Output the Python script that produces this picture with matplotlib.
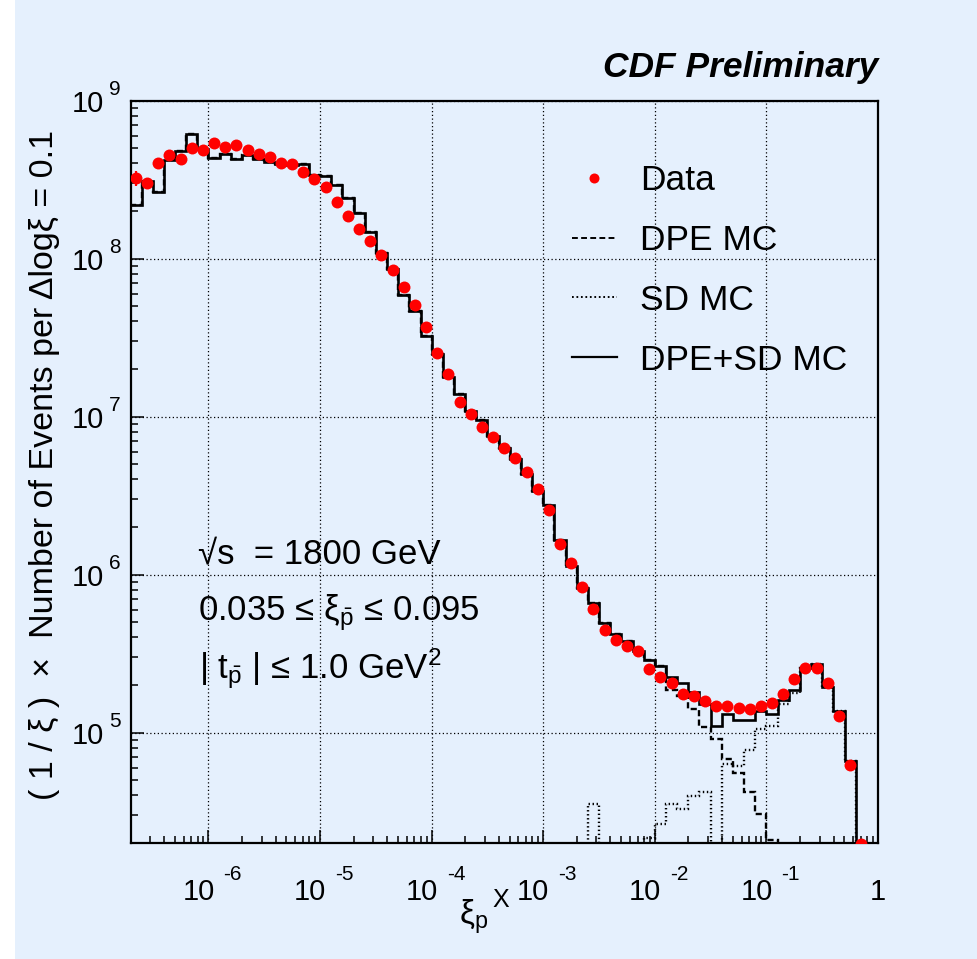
import numpy as np
import matplotlib
matplotlib.use('Agg')
import matplotlib.pyplot as plt
from matplotlib.patches import Rectangle
from matplotlib.lines import Line2D
from matplotlib.ticker import LogLocator, NullFormatter
from matplotlib.transforms import ScaledTranslation, blended_transform_factory

plt.rcParams['font.family'] = ['Liberation Sans', 'DejaVu Sans']
plt.rcParams['mathtext.fontset'] = 'custom'
plt.rcParams['mathtext.rm'] = 'Liberation Sans'
plt.rcParams['mathtext.it'] = 'Liberation Sans:italic'
plt.rcParams['mathtext.bf'] = 'Liberation Sans:bold'

# ---------------- data ----------------
log_xi_low = -6.7      # lower edge of first bin (log10 xi)
bin_width = 0.1        # Delta log xi
n_bins = 67

data_vals = [3.21e8, 2.99e8, 4.00e8, 4.54e8, 4.28e8, 4.98e8, 4.88e8, 5.37e8, 5.07e8, 5.21e8,
             4.85e8, 4.60e8, 4.39e8, 4.02e8, 3.98e8, 3.51e8, 3.20e8, 2.83e8, 2.29e8, 1.86e8,
             1.53e8, 1.29e8, 1.06e8, 8.51e7, 6.64e7, 5.06e7, 3.66e7, 2.54e7, 1.85e7, 1.23e7,
             1.03e7, 8.61e6, 7.38e6, 6.31e6, 5.43e6, 4.47e6, 3.48e6, 2.57e6, 1.56e6, 1.18e6,
             8.32e5, 6.07e5, 4.47e5, 3.86e5, 3.52e5, 3.29e5, 2.51e5, 2.26e5, 2.07e5, 1.76e5,
             1.70e5, 1.58e5, 1.48e5, 1.48e5, 1.43e5, 1.40e5, 1.47e5, 1.54e5, 1.76e5, 2.17e5,
             2.56e5, 2.56e5, 2.06e5, 1.27e5, 6.25e4, 1.97e4]
data_err_first = [3.5e7, 2.2e7, 1.4e7]   # visible stat. errors of the first bins

mc_total = [2.17e8, 3.09e8, 2.63e8, 4.21e8, 4.78e8, 6.15e8, 4.95e8, 4.35e8, 4.58e8, 4.24e8,
            4.52e8, 4.24e8, 4.11e8, 3.94e8, 3.90e8, 3.98e8, 3.38e8, 3.33e8, 2.92e8, 2.43e8,
            1.94e8, 1.47e8, 1.08e8, 8.55e7, 5.89e7, 4.68e7, 3.21e7, 2.48e7, 1.79e7, 1.39e7,
            1.09e7, 9.53e6, 7.48e6, 6.31e6, 5.38e6, 4.33e6, 3.39e6, 2.77e6, 1.66e6, 1.14e6,
            8.22e5, 6.61e5, 4.94e5, 4.19e5, 3.77e5, 3.30e5, 2.88e5, 2.65e5, 2.24e5, 2.07e5,
            1.80e5, 1.52e5, 1.10e5, 1.32e5, 1.20e5, 1.20e5, 1.37e5, 1.32e5, 1.61e5, 1.85e5,
            2.56e5, 2.72e5, 1.95e5, 1.36e5, 6.64e4, 0.0, 0.0]

# DPE MC: identical to the total for the first 48 bins, then falls off
dpe_tail = [1.86e5, 1.71e5, 1.40e5, 1.09e5, 9.14e4, 6.82e4, 5.58e4, 4.22e4, 3.05e4, 2.09e4,
            0.0, 0.0, 0.0, 0.0, 0.0, 0.0, 0.0, 0.0, 0.0]

sd_mc = [0.0] * 41 + [3.52e4, 0.0, 0.0, 0.0, 0.0, 2.15e4, 2.65e4, 3.52e4, 3.27e4, 3.98e4,
                      4.18e4, 0.0, 6.31e4, 6.15e4, 7.76e4, 1.06e5, 1.10e5, 1.52e5, 1.79e5,
                      2.56e5, 2.72e5, 1.95e5, 1.36e5, 6.64e4, 0.0, 0.0]

x_major = [1e-6, 1e-5, 1e-4, 1e-3, 1e-2, 1e-1, 1.0]
x_base_labels = ['10', '10', '10', '10', '10', '10', '1']
x_exponents = ['-6', '-5', '-4', '-3', '-2', '-1', '']
y_major = [1e5, 1e6, 1e7, 1e8, 1e9]
y_exponents = ['5', '6', '7', '8', '9']

legend_labels = ['Data', 'DPE MC', 'SD MC', 'DPE+SD MC']

# ---------------- figure ----------------
W, H = 978, 959
DPI = 100
BG = '#e5f0fd'

fig = plt.figure(figsize=(W / DPI, H / DPI), dpi=DPI, facecolor='white')
fig.patches.append(Rectangle((15 / W, 0), 1 - 15 / W, 1, transform=fig.transFigure,
                             facecolor=BG, edgecolor='none', zorder=-10))


def fx(px):
    return px / W


def fy(py):
    return 1 - py / H


ax = fig.add_axes([fx(130.5), fy(843), (878 - 130.5) / W, (843 - 100.5) / H])
ax.set_facecolor(BG)

edges = 10 ** (log_xi_low + bin_width * np.arange(n_bins + 1))
dpe_mc = mc_total[:48] + dpe_tail

floor = 1e-3


def floored(v):
    v = np.asarray(v, dtype=float)
    return np.where(v > 0, v, floor)


dash_style = (0, (2.6, 1.4))
dot_style = (0, (0.6, 1.1))

ax.stairs(floored(dpe_mc), edges, baseline=None, color='black', lw=1.7, linestyle=dash_style, zorder=3)
ax.stairs(floored(sd_mc), edges, baseline=None, color='black', lw=1.7, linestyle=dot_style, zorder=3)
ax.stairs(floored(mc_total), edges, baseline=None, color='black', lw=1.9, zorder=4)

centers = 10 ** (log_xi_low + bin_width * (np.arange(len(data_vals)) + 0.5))
ax.plot(centers, data_vals, 'o', color='#ff0000', ms=8.6, mec='none', zorder=5)
nerr = len(data_err_first)
ax.errorbar(centers[:nerr], data_vals[:nerr], yerr=data_err_first, fmt='none',
            ecolor='#ff0000', elinewidth=1.6, capsize=0, zorder=5)

ax.set_xscale('log')
ax.set_yscale('log')
ax.set_xlim(2e-7, 1.0)
ax.set_ylim(2e4, 1e9)

ax.set_xticks(x_major)
ax.set_xticklabels(x_base_labels)
ax.set_yticks(y_major)
ax.set_yticklabels(['10'] * len(y_major))
ax.xaxis.set_minor_locator(LogLocator(base=10, subs=np.arange(2, 10), numticks=20))
ax.yaxis.set_minor_locator(LogLocator(base=10, subs=np.arange(2, 10), numticks=20))
ax.xaxis.set_minor_formatter(NullFormatter())
ax.yaxis.set_minor_formatter(NullFormatter())

ax.tick_params(which='both', direction='in', top=False, right=False, width=1.1, color='black')
ax.tick_params(which='major', length=9.5, labelsize=21)
ax.tick_params(which='minor', length=4.8)
ax.tick_params(axis='x', which='major', pad=25.5)
ax.tick_params(axis='y', which='major', pad=19)

for sp in ax.spines.values():
    sp.set_linewidth(1.6)

ax.grid(True, which='major', color='black', linestyle=(0, (1, 2.0)), linewidth=0.9)
ax.set_axisbelow(False)

# shift "10" x labels left, add exponents
for lab, e in zip(ax.get_xticklabels(), x_exponents):
    if e:
        lab.set_transform(lab.get_transform() + ScaledTranslation(-10 / DPI, 0, fig.dpi_scale_trans))

bx = blended_transform_factory(ax.transData, ax.transAxes)
for xv, e in zip(x_major, x_exponents):
    if e:
        ax.text(xv, 0, e, transform=bx + ScaledTranslation(15 / DPI, -37 / DPI, fig.dpi_scale_trans),
                ha='left', va='baseline', fontsize=15, clip_on=False)

by = blended_transform_factory(ax.transAxes, ax.transData)
for yv, e in zip(y_major, y_exponents):
    ax.text(0, yv, e, transform=by + ScaledTranslation(-10 / DPI, 6 / DPI, fig.dpi_scale_trans),
            ha='right', va='baseline', fontsize=15, clip_on=False)

# legend
handles = [Line2D([], [], color='#ff0000', marker='o', ls='none', ms=7.2, mec='none'),
           Line2D([], [], color='black', lw=1.4, linestyle=(0, (3.0, 1.7))),
           Line2D([], [], color='black', lw=1.4, linestyle=(0, (0.9, 1.4))),
           Line2D([], [], color='black', lw=1.6)]
ax.legend(handles, legend_labels, loc='upper left', bbox_to_anchor=(fx(572), fy(164)),
          bbox_transform=fig.transFigure, frameon=False, fontsize=25.5,
          handlelength=1.27, handletextpad=0.64, labelspacing=0.76,
          borderpad=0, borderaxespad=0, numpoints=1)

# texts
fig.text(fx(878), fy(77), 'CDF Preliminary', ha='right', va='baseline',
         fontsize=25.5, fontweight='bold', fontstyle='italic')

fig.text(fx(198), fy(563), '\u221as  = 1800 GeV', ha='left', va='baseline', fontsize=25)
fig.text(fx(198), fy(620), '0.035 \u2264 ' + r'$\mathrm{\xi}_{\bar{\mathrm{p}}}$' + ' \u2264 0.095',
         ha='left', va='baseline', fontsize=25)
fig.text(fx(199), fy(679), '| ' + r'$\mathrm{t}_{\bar{\mathrm{p}}}$' + ' | \u2264 1.0 GeV' + r'$^{2}$',
         ha='left', va='baseline', fontsize=25)

fig.text(fx(53), fy(465), '( 1 / \u03be )  \u00d7  Number of Events per \u0394log\u03be = 0.1',
         rotation=90, rotation_mode='anchor', ha='center', va='baseline', fontsize=24.5)

fig.text(fx(459), fy(924), r'$\mathrm{\xi}_{\mathrm{p}}$', ha='left', va='baseline', fontsize=24)
fig.text(fx(492), fy(907), 'X', ha='left', va='baseline', fontsize=18)

fig.savefig('out.png', dpi=DPI, facecolor='white')
